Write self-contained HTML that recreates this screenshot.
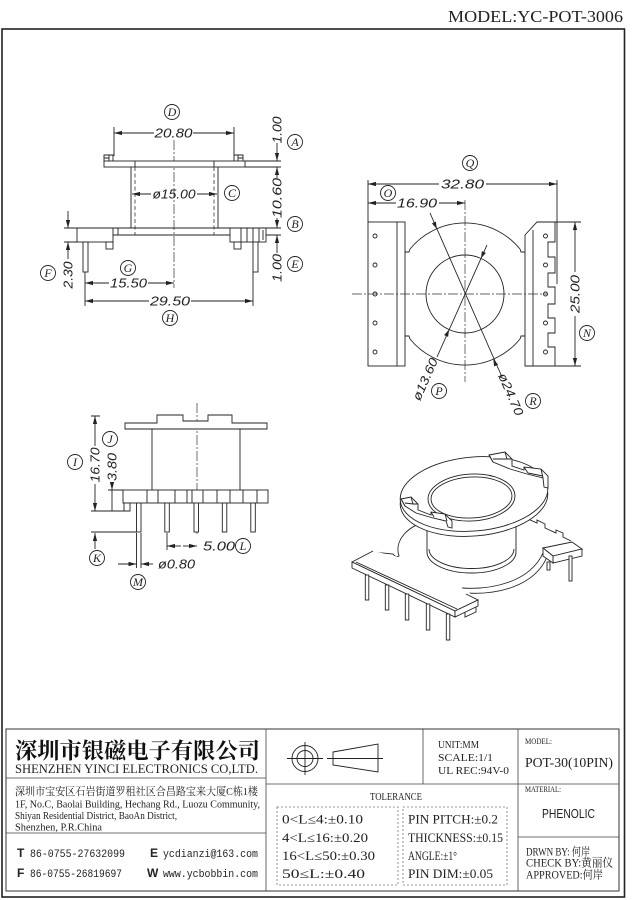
<!DOCTYPE html>
<html><head><meta charset="utf-8"><style>
html,body{margin:0;padding:0;background:#fff;}
svg{display:block;}
.l{stroke:#222;stroke-width:0.9;fill:none;}
.w{stroke:#222;stroke-width:0.9;fill:#fff;}
.c{stroke:#333;stroke-width:0.7;fill:none;stroke-dasharray:10 2 2 2;}
.h{stroke:#333;stroke-width:0.8;fill:none;stroke-dasharray:4 2.5;}
.d{font-family:"Liberation Sans",sans-serif;font-style:italic;font-size:12.5px;fill:#222;}
.lb{font-family:"Liberation Serif",serif;font-style:italic;font-size:12px;fill:#222;}
.s{font-family:"Liberation Serif","Noto Serif CJK SC",serif;fill:#222;}
.m{font-family:"Liberation Mono","Noto Serif CJK SC",monospace;fill:#222;}
.b{font-family:"Liberation Sans",sans-serif;font-weight:bold;fill:#222;}
</style></head><body>
<svg width="639" height="900" viewBox="0 0 639 900" xmlns="http://www.w3.org/2000/svg">
<defs>
<marker id="a" viewBox="0 0 8 6" refX="8" refY="3" markerWidth="8" markerHeight="6" markerUnits="userSpaceOnUse" orient="auto"><path d="M0,0.9 L8,3 L0,5.1 z" fill="#222"/></marker>
</defs>

<!-- header -->
<text x="448" y="22" class="s" font-size="17" textLength="175" lengthAdjust="spacingAndGlyphs">MODEL:YC-POT-3006</text>
<!-- frame -->
<rect x="2" y="29" width="622.5" height="868" fill="none" stroke="#222" stroke-width="1.6"/>

<!-- ================= TOP-LEFT VIEW ================= -->
<line x1="174" y1="140" x2="174" y2="288" class="c"/>
<path class="w" d="M104,161 L104,155 L113,155 L113,161"/>
<path class="l" d="M109,155 L109,161 M104,158 L109,158"/>
<path class="w" d="M234,161 L234,155 L243,155 L243,161"/>
<path class="l" d="M238,155 L238,161 M238,158 L243,158"/>
<rect x="104" y="161" width="141" height="6" class="w"/>
<path class="l" d="M245,161 H281 M245,167 H281 M135,161 V167 M214,161 V167"/>
<path class="l" d="M131,167 V228 M218,167 V228"/>
<path class="h" d="M135,167 V235 M214,167 V235"/>
<rect x="77" y="228" width="36" height="14" class="w"/>
<rect x="106" y="242" width="7" height="7" class="w"/>
<path class="l" d="M113,235 H230 M118,228 V235"/>
<rect x="230" y="228" width="36" height="14" class="w"/>
<rect x="234" y="242" width="7" height="7" class="w"/>
<path class="l" d="M241,228 V242 M247,228 V242 M253,228 V242 M259,228 V242 M263,230 V240"/>
<path class="l" d="M64,228 H281 M266,235 H281 M64,242 H77"/>
<rect x="83" y="242" width="5" height="30" class="w"/>
<rect x="253" y="242" width="5" height="30" class="w"/>
<!-- 20.80 -->
<path class="l" d="M114,127 V156 M234,127 V156"/>
<line x1="154" y1="133" x2="114" y2="133" class="l" marker-end="url(#a)"/>
<line x1="193" y1="133" x2="234" y2="133" class="l" marker-end="url(#a)"/>
<text x="173.5" y="137.5" class="d" text-anchor="middle" textLength="38" lengthAdjust="spacingAndGlyphs">20.80</text>
<circle cx="172" cy="112" r="7.5" class="l"/><text x="172" y="116" class="lb" text-anchor="middle">D</text>
<!-- ø15.00 -->
<line x1="151" y1="194" x2="132" y2="194" class="l" marker-end="url(#a)"/>
<line x1="197" y1="194" x2="217" y2="194" class="l" marker-end="url(#a)"/>
<text x="174" y="198.5" class="d" text-anchor="middle" textLength="43" lengthAdjust="spacingAndGlyphs">ø15.00</text>
<circle cx="232" cy="193" r="7.5" class="l"/><text x="232" y="197" class="lb" text-anchor="middle">C</text>
<!-- right vertical dims -->
<line x1="277" y1="143" x2="277" y2="161" class="l" marker-end="url(#a)"/>
<text transform="translate(281.5,130) rotate(-90)" class="d" text-anchor="middle" textLength="27" lengthAdjust="spacingAndGlyphs">1.00</text>
<line x1="277" y1="178" x2="277" y2="167" class="l" marker-end="url(#a)"/>
<line x1="277" y1="218" x2="277" y2="228" class="l" marker-end="url(#a)"/>
<text transform="translate(281.5,198) rotate(-90)" class="d" text-anchor="middle" textLength="40" lengthAdjust="spacingAndGlyphs">10.60</text>
<line x1="277" y1="253" x2="277" y2="235" class="l" marker-end="url(#a)"/>
<text transform="translate(281.5,268) rotate(-90)" class="d" text-anchor="middle" textLength="28" lengthAdjust="spacingAndGlyphs">1.00</text>
<circle cx="295" cy="142" r="7.5" class="l"/><text x="295" y="146" class="lb" text-anchor="middle">A</text>
<circle cx="295" cy="224" r="7.5" class="l"/><text x="295" y="228" class="lb" text-anchor="middle">B</text>
<circle cx="295" cy="264" r="7.5" class="l"/><text x="295" y="268" class="lb" text-anchor="middle">E</text>
<!-- F 2.30 -->
<line x1="68" y1="211" x2="68" y2="228" class="l" marker-end="url(#a)"/>
<line x1="68" y1="259" x2="68" y2="242" class="l" marker-end="url(#a)"/>
<text transform="translate(72.5,275) rotate(-90)" class="d" text-anchor="middle" textLength="27" lengthAdjust="spacingAndGlyphs">2.30</text>
<circle cx="48" cy="273" r="7.5" class="l"/><text x="48" y="277" class="lb" text-anchor="middle">F</text>
<!-- 15.50 / 29.50 -->
<path class="l" d="M85,272 V306 M253,272 V306"/>
<line x1="109" y1="283" x2="85" y2="283" class="l" marker-end="url(#a)"/>
<line x1="148" y1="283" x2="174" y2="283" class="l" marker-end="url(#a)"/>
<text x="128.5" y="287.5" class="d" text-anchor="middle" textLength="37" lengthAdjust="spacingAndGlyphs">15.50</text>
<circle cx="128" cy="268" r="7.5" class="l"/><text x="128" y="272" class="lb" text-anchor="middle">G</text>
<line x1="149" y1="301" x2="85" y2="301" class="l" marker-end="url(#a)"/>
<line x1="191" y1="301" x2="253" y2="301" class="l" marker-end="url(#a)"/>
<text x="170" y="305.5" class="d" text-anchor="middle" textLength="40" lengthAdjust="spacingAndGlyphs">29.50</text>
<circle cx="170" cy="318" r="7.5" class="l"/><text x="170" y="322" class="lb" text-anchor="middle">H</text>

<!-- ================= TOP-RIGHT VIEW ================= -->
<rect x="368" y="222" width="37" height="144" class="w"/>
<line x1="397" y1="222" x2="397" y2="366" class="l"/>
<g class="l"><circle cx="375" cy="236" r="2"/><circle cx="375" cy="265" r="2"/><circle cx="375" cy="294" r="2"/><circle cx="375" cy="323" r="2"/><circle cx="375" cy="352" r="2"/></g>
<path class="w" d="M525,366 L525,235 L537,222 L555,222 L555,242 L548,242 L548,257 L555,257 L555,273 L548,273 L548,287 L555,287 L555,304 L548,304 L548,318 L555,318 L555,333 L548,333 L548,347 L555,347 L555,366 Z"/>
<line x1="533" y1="230" x2="533" y2="366" class="l"/>
<g class="l"><circle cx="545.5" cy="236" r="2"/><circle cx="545.5" cy="265" r="2"/><circle cx="545.5" cy="294" r="2"/><circle cx="545.5" cy="323" r="2"/><circle cx="545.5" cy="352" r="2"/></g>
<path class="l" d="M368,180 V222 M557,180 V284 M555,222 H581 M555,366 H581"/>
<!-- arcs -->
<path class="l" d="M410,249 A71,71 0 0 1 520,249 M410,339 A71,71 0 0 0 520,339"/>
<path class="l" d="M405,252 H409 L410,249 M525,252 H521 L520,249 M405,336 H409 L410,339 M525,336 H521 L520,339"/>
<circle cx="465" cy="294" r="39" class="l"/>
<line x1="465" y1="200" x2="465" y2="382" class="c"/>
<line x1="352" y1="294" x2="547" y2="294" class="c"/>
<!-- diagonals -->
<line x1="430" y1="213" x2="502" y2="377" class="l"/>
<line x1="487" y1="245" x2="437" y2="357" class="l"/>
<g fill="#222">
<polygon points="436.7,228.9 431.9,223.4 435.9,221.6"/>
<polygon points="493.3,359.1 494.1,366.4 498.1,364.6"/>
<polygon points="481,258.4 481.9,251.1 485.9,252.9"/>
<polygon points="449,329.6 444.1,335.1 448.1,336.9"/>
</g>
<text transform="translate(429,381) rotate(-66)" class="d" text-anchor="middle" textLength="45" lengthAdjust="spacingAndGlyphs">ø13.60</text>
<text transform="translate(507,396) rotate(66.5)" class="d" text-anchor="middle" textLength="45" lengthAdjust="spacingAndGlyphs">ø24.70</text>
<circle cx="439" cy="391" r="7.5" class="l"/><text x="439" y="395" class="lb" text-anchor="middle">P</text>
<circle cx="533" cy="401" r="7.5" class="l"/><text x="533" y="405" class="lb" text-anchor="middle">R</text>
<!-- 32.80 / 16.90 -->
<line x1="439" y1="184" x2="368" y2="184" class="l" marker-end="url(#a)"/>
<line x1="486" y1="184" x2="557" y2="184" class="l" marker-end="url(#a)"/>
<text x="462.5" y="188.5" class="d" text-anchor="middle" textLength="43" lengthAdjust="spacingAndGlyphs">32.80</text>
<circle cx="470" cy="163" r="7.5" class="l"/><text x="470" y="167" class="lb" text-anchor="middle">Q</text>
<line x1="396" y1="203" x2="368" y2="203" class="l" marker-end="url(#a)"/>
<line x1="439" y1="203" x2="465" y2="203" class="l" marker-end="url(#a)"/>
<text x="417" y="207.5" class="d" text-anchor="middle" textLength="40" lengthAdjust="spacingAndGlyphs">16.90</text>
<circle cx="388" cy="193" r="7.5" class="l"/><text x="388" y="197" class="lb" text-anchor="middle">O</text>
<!-- 25.00 -->
<line x1="575" y1="272" x2="575" y2="222" class="l" marker-end="url(#a)"/>
<line x1="575" y1="316" x2="575" y2="366" class="l" marker-end="url(#a)"/>
<text transform="translate(579.5,294) rotate(-90)" class="d" text-anchor="middle" textLength="38" lengthAdjust="spacingAndGlyphs">25.00</text>
<circle cx="587" cy="333" r="7.5" class="l"/><text x="587" y="337" class="lb" text-anchor="middle">N</text>

<!-- ================= BOTTOM-LEFT VIEW ================= -->
<line x1="197" y1="403" x2="197" y2="534" class="c"/>
<path class="w" d="M125,423 H157 V415 H183 V421 H208 V415 H232 V423 H267 V429 H125 Z"/>
<path class="l" d="M152,429 V490 M240,429 V490"/>
<rect x="123" y="490" width="145" height="13" class="w"/>
<path class="l" d="M147,490 V503 M158,490 V503 M175,490 V503 M187,490 V503 M192,490 V503 M203,490 V503 M217,490 V503 M230,490 V503 M243,490 V503 M257,490 V503"/>
<rect x="124" y="503" width="6" height="8" class="w"/>
<g class="w">
<rect x="136.5" y="503" width="4.5" height="29"/>
<rect x="164.8" y="503" width="4.5" height="29"/>
<rect x="194" y="503" width="4.5" height="29"/>
<rect x="222.3" y="503" width="4.5" height="29"/>
<rect x="250.8" y="503" width="4.5" height="29"/>
</g>
<!-- I 16.70 -->
<path class="l" d="M91,416 H100 M91,511 H130 M108,490 H123 M91,532 H137"/>
<line x1="95" y1="446" x2="95" y2="416" class="l" marker-end="url(#a)"/>
<line x1="95" y1="484" x2="95" y2="511" class="l" marker-end="url(#a)"/>
<text transform="translate(99.5,465) rotate(-90)" class="d" text-anchor="middle" textLength="35" lengthAdjust="spacingAndGlyphs">16.70</text>
<circle cx="75" cy="462" r="7.5" class="l"/><text x="75" y="466" class="lb" text-anchor="middle">I</text>
<!-- J 3.80 -->
<line x1="112" y1="482" x2="112" y2="490" class="l" marker-end="url(#a)"/>
<line x1="112" y1="490" x2="112" y2="511" class="l"/>
<text transform="translate(116.5,467) rotate(-90)" class="d" text-anchor="middle" textLength="28" lengthAdjust="spacingAndGlyphs">3.80</text>
<circle cx="110" cy="439" r="7.5" class="l"/><text x="110" y="443" class="lb" text-anchor="middle">J</text>
<!-- K -->
<line x1="95" y1="549" x2="95" y2="533" class="l" marker-end="url(#a)"/>
<circle cx="97" cy="558" r="7.5" class="l"/><text x="97" y="562" class="lb" text-anchor="middle">K</text>
<!-- L 5.00 -->
<line x1="167" y1="533" x2="167" y2="550" class="l"/>
<line x1="181" y1="546" x2="167" y2="546" class="l" marker-end="url(#a)"/>
<line x1="183" y1="546" x2="197" y2="546" class="l" marker-end="url(#a)"/>
<text x="219" y="550.5" class="d" text-anchor="middle" textLength="32" lengthAdjust="spacingAndGlyphs">5.00</text>
<circle cx="243" cy="546" r="7.5" class="l"/><text x="243" y="550" class="lb" text-anchor="middle">L</text>
<!-- M ø0.80 -->
<path class="l" d="M136.5,533 V568 M141,533 V568"/>
<line x1="118" y1="564" x2="136.5" y2="564" class="l" marker-end="url(#a)"/>
<line x1="153" y1="564" x2="141" y2="564" class="l" marker-end="url(#a)"/>
<text x="158" y="568.5" class="d" textLength="37" lengthAdjust="spacingAndGlyphs">ø0.80</text>
<circle cx="138" cy="582" r="7.5" class="l"/><text x="138" y="586" class="lb" text-anchor="middle">M</text>

<!-- ================= 3D VIEW ================= -->
<path class="l" d="M373,552 L393,554 L396,557 L399,556 C394,541 407,525 430,521"/>
<path class="l" d="M462,588 C492,590 530,582 543,553"/>
<path class="l" d="M466,593 C496,595 534,587 547,557"/>
<path class="l" d="M462,588 L466,593"/>
<path class="l" d="M528,519 L537,523 L537,520 L545,524 L545,528 L556,533 L556,530 L563,533 L563,537 L571,541"/>
<path class="w" d="M543,548 L572,542 L582,549 L553,556 Z"/>
<path class="w" d="M553,556 L582,549 L582,556 L553,563 Z"/>
<path class="w" d="M543,548 L553,556 L553,563 L543,556 Z"/>
<rect x="547" y="562" width="3" height="8" class="w"/>
<rect x="569" y="556" width="3" height="25" class="w"/>
<path class="w" d="M427,522 L427,552 A44.5,21 0 0 0 516,552 L516,522 Z"/>
<path class="l" d="M429,549 A42.5,19.5 0 0 0 514,549"/>
<polygon fill="#fff" points="352,562 373,551 395,556 462,588 480,600 455,611"/>
<path class="l" d="M352,562 L373,551 M352,562 L455,611 L478,600 L466,594 M356,562 L457,609"/>
<path class="w" d="M352,562 V568 L455,617 V611 Z"/>
<path class="w" d="M455,611 L478,600 V606 L455,617 Z"/>
<path class="l" d="M465,612 V617 L476,612 V607"/>
<g class="w">
<rect x="365.3" y="575" width="3.5" height="25"/>
<rect x="385.3" y="585" width="3.5" height="25"/>
<rect x="405.3" y="594" width="3.5" height="26"/>
<rect x="426.3" y="604" width="3.5" height="26"/>
<rect x="446.3" y="614" width="3.5" height="26"/>
</g>
<ellipse cx="474" cy="499" rx="74" ry="37" transform="rotate(-5 474 499)" class="w"/>
<ellipse cx="474" cy="494" rx="74" ry="37" transform="rotate(-5 474 494)" class="w"/>
<ellipse cx="471.5" cy="497.5" rx="43.5" ry="23.5" transform="rotate(-3 471.5 497.5)" class="l"/>
<ellipse cx="471.5" cy="497.5" rx="40.5" ry="20.5" transform="rotate(-3 471.5 497.5)" class="l"/>
<path class="w" d="M489,455 L505,452 L512,459 L512,466 L524,470 L524,467 L541,469 L548,476 L548,488 L544,487 L543,478 L527,474 L510,469 L493,462 Z"/>
<path class="l" d="M489,455 L493,462 M505,452 L507,459 L512,459 M493,459 L507,459 M524,467 L528,473 M541,469 L543,478 M528,473 L543,476"/>
<path class="w" d="M401,499 L411,497 L418,504 L418,510 L431,515 L431,512 L445,514 L452,521 L452,528 L448,527 L446,521 L433,518 L416,513 L405,506 Z"/>
<path class="l" d="M401,499 L405,506 M411,497 L413,504 L418,504 M405,503 L413,504 M431,512 L434,517 M445,514 L447,521"/>

<!-- ================= TITLE BLOCK ================= -->
<rect x="6" y="729" width="613" height="162" fill="none" stroke="#333" stroke-width="1"/>
<path d="M266,729 V891 M518,729 V891 M6,778 H266 M6,833 H266 M266,784 H619 M423,729 V784 M518,837 H619" stroke="#444" stroke-width="0.8" fill="none"/>
<text x="15" y="758.5" font-family="'Noto Serif CJK SC',serif" font-weight="bold" font-size="22" fill="#111" textLength="245" lengthAdjust="spacingAndGlyphs">深圳市银磁电子有限公司</text>
<text x="15" y="773" class="s" font-size="13" textLength="243" lengthAdjust="spacingAndGlyphs">SHENZHEN YINCI ELECTRONICS CO,LTD.</text>
<text x="15" y="795" class="s" font-size="11" textLength="243" lengthAdjust="spacingAndGlyphs">深圳市宝安区石岩街道罗租社区合昌路宝来大厦C栋1楼</text>
<text x="15" y="807.5" class="s" font-size="10.5" textLength="245" lengthAdjust="spacingAndGlyphs">1F, No.C, Baolai Building, Hechang Rd., Luozu Community,</text>
<text x="15" y="819" class="s" font-size="10.5" textLength="162" lengthAdjust="spacingAndGlyphs">Shiyan Residential District, BaoAn District,</text>
<text x="15" y="830.5" class="s" font-size="10.5" textLength="87" lengthAdjust="spacingAndGlyphs">Shenzhen, P.R.China</text>
<text x="17" y="857" class="b" font-size="12">T</text>
<text x="30" y="857" class="m" font-size="11" textLength="95" lengthAdjust="spacingAndGlyphs">86-0755-27632099</text>
<text x="150" y="857" class="b" font-size="12">E</text>
<text x="163" y="857" class="m" font-size="11" textLength="95" lengthAdjust="spacingAndGlyphs">ycdianzi@163.com</text>
<text x="17" y="877" class="b" font-size="12">F</text>
<text x="30" y="877" class="m" font-size="11" textLength="92" lengthAdjust="spacingAndGlyphs">86-0755-26819697</text>
<text x="147" y="877" class="b" font-size="12">W</text>
<text x="163" y="877" class="m" font-size="11" textLength="95" lengthAdjust="spacingAndGlyphs">www.ycbobbin.com</text>
<circle cx="305" cy="758.5" r="13" class="l"/>
<circle cx="305" cy="758.5" r="8" class="l"/>
<path class="l" d="M287,758.5 H323 M305,742 V775"/>
<path class="l" d="M333,752 L378,744 L378,772 L333,765 Z M327,758.5 H383"/>
<text x="438" y="748" class="s" font-size="11" textLength="41" lengthAdjust="spacingAndGlyphs">UNIT:MM</text>
<text x="438" y="761" class="s" font-size="11" textLength="55" lengthAdjust="spacingAndGlyphs">SCALE:1/1</text>
<text x="438" y="774" class="s" font-size="11" textLength="71" lengthAdjust="spacingAndGlyphs">UL REC:94V-0</text>
<text x="525" y="744" class="s" font-size="8" textLength="27" lengthAdjust="spacingAndGlyphs">MODEL:</text>
<text x="525" y="767" class="s" font-size="14" textLength="88" lengthAdjust="spacingAndGlyphs">POT-30(10PIN)</text>
<text x="525" y="792" class="s" font-size="8" textLength="36" lengthAdjust="spacingAndGlyphs">MATERIAL:</text>
<text x="542" y="818" font-family="'Liberation Sans',sans-serif" font-size="13" fill="#222" textLength="53" lengthAdjust="spacingAndGlyphs">PHENOLIC</text>
<text x="526" y="855.5" class="s" font-size="11.5" textLength="64" lengthAdjust="spacingAndGlyphs">DRWN BY: 何岸</text>
<text x="526" y="866.5" class="s" font-size="11.5" textLength="87" lengthAdjust="spacingAndGlyphs">CHECK BY:黄丽仪</text>
<text x="526" y="878.5" class="s" font-size="11.5" textLength="77" lengthAdjust="spacingAndGlyphs">APPROVED:何岸</text>
<text x="370" y="800" class="s" font-size="11" textLength="52" lengthAdjust="spacingAndGlyphs">TOLERANCE</text>
<rect x="277" y="807" width="121" height="78" fill="none" stroke="#777" stroke-width="0.8" stroke-dasharray="2 2"/>
<rect x="403" y="807" width="104" height="78" fill="none" stroke="#777" stroke-width="0.8" stroke-dasharray="2 2"/>
<text x="282" y="823.5" class="s" font-size="12.5" textLength="81" lengthAdjust="spacingAndGlyphs">0&lt;L≤4:±0.10</text>
<text x="282" y="842" class="s" font-size="12.5" textLength="86" lengthAdjust="spacingAndGlyphs">4&lt;L≤16:±0.20</text>
<text x="282" y="860" class="s" font-size="12.5" textLength="93" lengthAdjust="spacingAndGlyphs">16&lt;L≤50:±0.30</text>
<text x="282" y="878" class="s" font-size="12.5" textLength="83" lengthAdjust="spacingAndGlyphs">50≤L:±0.40</text>
<text x="408" y="823.5" class="s" font-size="12.5" textLength="90" lengthAdjust="spacingAndGlyphs">PIN PITCH:±0.2</text>
<text x="408" y="842" class="s" font-size="12.5" textLength="95" lengthAdjust="spacingAndGlyphs">THICKNESS:±0.15</text>
<text x="408" y="860" class="s" font-size="12.5" textLength="49" lengthAdjust="spacingAndGlyphs">ANGLE:±1°</text>
<text x="408" y="878" class="s" font-size="12.5" textLength="85" lengthAdjust="spacingAndGlyphs">PIN DIM:±0.05</text>
</svg>
</body></html>
